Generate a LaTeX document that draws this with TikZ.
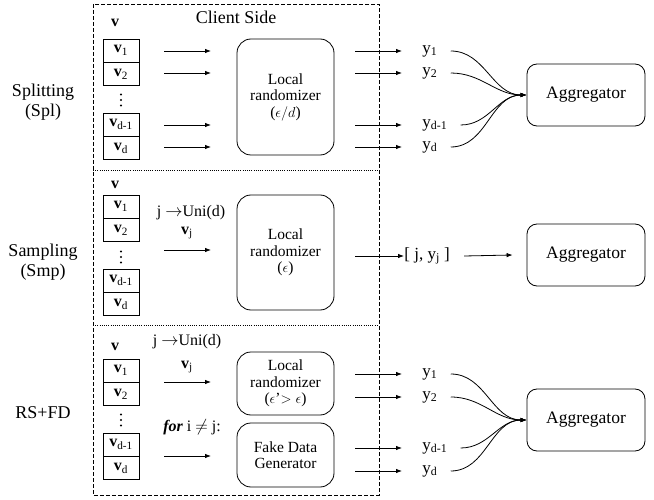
\documentclass[tikz,border=0pt]{standalone}
\usepackage{fontspec}
\setmainfont{Liberation Serif}
\usetikzlibrary{calc}
\usetikzlibrary{positioning}
\usetikzlibrary{arrows.meta}

\begin{document}
\begin{tikzpicture}[x=1pt,y=-1pt,line width=0.8pt,
  cellnode/.style={draw,minimum width=36pt,minimum height=23pt,inner sep=0pt,font=\fontsize{16}{18}\selectfont},
  lrnode/.style={draw,rounded corners=14pt,minimum width=97pt,align=center,inner sep=0pt,font=\fontsize{15.5}{16.5}\selectfont},
  aggnode/.style={draw,rounded corners=10pt,minimum width=118pt,minimum height=62pt,font=\fontsize{17.5}{20}\selectfont},
  namenode/.style={align=center,font=\fontsize{18}{20}\selectfont},
  labnode/.style={inner sep=1pt,font=\fontsize{16}{18}\selectfont},
  ynode/.style={anchor=west,inner sep=1pt,font=\fontsize{17}{19}\selectfont},
  flow/.style={-{Latex[length=6pt,width=4.5pt]}}]

\useasboundingbox (0,0) rectangle (654,500);

% Set x positions
\def\cellx{121}   %<- centre of the v cells
\def\inx{164}     %<- start of the arrows into a randomizer
\def\outx{355}    %<- start of the arrows leaving the client
\def\arrlen{47}   %<- length of the short arrows
\def\yx{421}      %<- left edge of the y labels

% Client side frame
\draw[dash pattern=on 4pt off 2pt] (93,4) rectangle (379,495);
\draw[dash pattern=on 1pt off 1.2pt] (93,170) -- (379,170);
\draw[dash pattern=on 1pt off 1.2pt] (93,325) -- (379,325);
\node[namenode] (client) at (236,17) {Client Side};

% Splitting
\node[namenode] (splname) at (43,102) {Splitting\\(Spl)};
\node[labnode] (splv) at (115,23) {\textbf{v}};
\node[cellnode] (splc1) at (\cellx,50.5) {\textbf{v}\textsubscript{1}};
\node[cellnode,below=0pt of splc1] (splc2) {\textbf{v}\textsubscript{2}};
\coordinate (spldots) at (\cellx,100);
\node[cellnode] (splc3) at (\cellx,124.5) {\textbf{v}\textsubscript{d-1}};
\node[cellnode,below=0pt of splc3] (splc4) {\textbf{v}\textsubscript{d}};
\node[lrnode,minimum height=116pt] (spllr) at (285.5,97) {Local\\randomizer\\($\epsilon/d$)};
\node[aggnode] (splagg) at (586,95) {Aggregator};
\foreach \i/\yy/\lab in {1/51/1,2/73/2,3/125/d-1,4/147/d} {
  \coordinate (splin\i) at (\inx,\yy);
  \coordinate (splout\i) at (\outx,\yy);
  \node[ynode] (sply\i) at (\yx,\yy) {y\textsubscript{\lab}};
  \draw[flow] (splin\i) -- ++(\arrlen,0);
  \draw[flow] (splout\i) -- ++(\arrlen,0);
  \draw[flow] ([xshift=12pt]sply\i.east) to[out=0,in=180] (splagg.west);
}

% Sampling
\node[namenode] (smpname) at (43,262) {Sampling\\(Smp)};
\node[labnode] (smpv) at (115,185) {\textbf{v}};
\node[cellnode] (smpc1) at (\cellx,206.5) {\textbf{v}\textsubscript{1}};
\node[cellnode,below=0pt of smpc1] (smpc2) {\textbf{v}\textsubscript{2}};
\coordinate (smpdots) at (\cellx,257);
\node[cellnode] (smpc3) at (\cellx,280.5) {\textbf{v}\textsubscript{d-1}};
\node[cellnode,below=0pt of smpc3] (smpc4) {\textbf{v}\textsubscript{d}};
\node[labnode] (smpuni) at (191,213) {j $\rightarrow$Uni(d)};
\node[labnode] (smpvj) at (187,233) {\textbf{v}\textsubscript{j}};
\node[lrnode,minimum height=115pt] (smplr) at (285.5,252.5) {Local\\randomizer\\($\epsilon$)};
\node[aggnode] (smpagg) at (586,255) {Aggregator};
\coordinate (smpin) at (\inx,250);
\coordinate (smpout) at (\outx,256);
\node[ynode,inner sep=0pt] (smppair) at (404,256) {[ j, y\textsubscript{j} ]};
\draw[flow] (smpin) -- ++(\arrlen,0);
\draw[flow] (smpout) -- (smppair.west);
\draw[flow] ([xshift=14pt]smppair.east) -- ([xshift=-14pt]smpagg.west);

% RS+FD
\node[namenode] (rsname) at (43,413) {RS+FD};
\node[labnode] (rsv) at (115,347) {\textbf{v}};
\node[cellnode] (rsc1) at (\cellx,370.5) {\textbf{v}\textsubscript{1}};
\node[cellnode,below=0pt of rsc1] (rsc2) {\textbf{v}\textsubscript{2}};
\coordinate (rsdots) at (\cellx,420);
\node[cellnode] (rsc3) at (\cellx,444.5) {\textbf{v}\textsubscript{d-1}};
\node[cellnode,below=0pt of rsc3] (rsc4) {\textbf{v}\textsubscript{d}};
\node[labnode] (rsuni) at (187,342) {j $\rightarrow$Uni(d)};
\node[labnode] (rsvj) at (187,367) {\textbf{v}\textsubscript{j}};
\node[labnode] (rsfor) at (192,427) {\textbf{\textit{for}} i $\neq$ j:};
\node[lrnode,minimum height=63pt] (rslr) at (285.5,383.5) {Local\\randomizer\\($\epsilon$'$>\epsilon$)};
\node[lrnode,minimum height=64pt] (rsfdg) at (285.5,455) {Fake Data\\Generator};
\node[aggnode] (rsagg) at (586,420) {Aggregator};
\coordinate (rsin1) at (\inx,382);
\coordinate (rsin2) at (\inx,456);
\draw[flow] (rsin1) -- ++(\arrlen,0);
\draw[flow] (rsin2) -- ++(\arrlen,0);
\foreach \i/\yy/\lab in {1/374/1,2/397/2,3/448/d-1,4/471/d} {
  \coordinate (rsout\i) at (\outx,\yy);
  \node[ynode] (rsy\i) at (\yx,\yy) {y\textsubscript{\lab}};
  \draw[flow] (rsout\i) -- ++(\arrlen,0);
  \draw[flow] ([xshift=12pt]rsy\i.east) to[out=0,in=180] (rsagg.west);
}

% vertical dots between the cells
\foreach \dd in {spldots,smpdots,rsdots}
  \foreach \k in {-5.5,0,5.5}
    \fill ($(\dd)+(0,\k)$) circle (1.1pt);

\end{tikzpicture}
\end{document}
